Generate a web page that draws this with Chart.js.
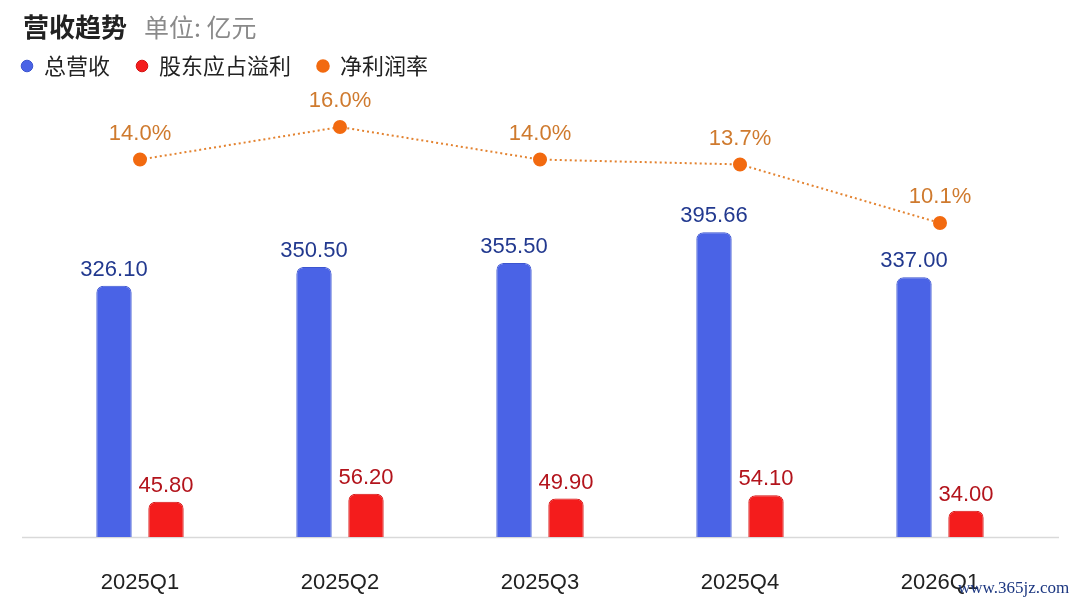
<!DOCTYPE html>
<html>
<head>
<meta charset="utf-8">
<script src="https://cdn.jsdelivr.net/npm/chart.js@4.4.1/dist/chart.umd.min.js"></script>
<style>
  html, body { margin: 0; padding: 0; background: #ffffff; }
  #wrap { position: relative; width: 1080px; height: 603px; overflow: hidden; }
  #title { position: absolute; left: 23px; top: 7px; font-family: "Noto Sans CJK SC", sans-serif; white-space: nowrap; }
  #title .main { font-size: 26px; font-weight: bold; color: #222222; }
  #title .unit { font-size: 25px; color: #8a8a8a; margin-left: 17px; }
  #mark { position: absolute; left: 958px; top: 578px; font-family: "Liberation Serif", serif; font-size: 17px; color: #1b3680; white-space: nowrap; }
</style>
</head>
<body>
<div id="wrap">
  <canvas id="myChart" width="1080" height="603"></canvas>
  <div id="title"><span class="main">营收趋势</span><span class="unit">单位: 亿元</span></div>
  <div id="mark">www.365jz.com</div>
</div>
<script>
// data
const quarters = ["2025Q1", "2025Q2", "2025Q3", "2025Q4", "2026Q1"];
const revenue = [326.10, 350.50, 355.50, 395.66, 337.00];
const profit = [45.80, 56.20, 49.90, 54.10, 34.00];
const margin = [14.0, 16.0, 14.0, 13.7, 10.1];
const legendOrder = ['总营收', '股东应占溢利', '净利润率'];

const fontFamily = '"Liberation Sans", Arial, sans-serif';
const cjkFont = '"Noto Sans CJK SC", sans-serif';

// value labels over bars and points
const valueLabels = {
  id: 'valueLabels',
  afterDatasetsDraw(chart) {
    const ctx = chart.ctx;
    ctx.save();
    ctx.textAlign = 'center';
    ctx.textBaseline = 'middle';
    ctx.font = '22px ' + fontFamily;
    chart.data.datasets.forEach((ds, i) => {
      const meta = chart.getDatasetMeta(i);
      meta.data.forEach((el, j) => {
        const v = ds.data[j];
        if (ds.type === 'line') {
          ctx.fillStyle = '#cf7a2e';
          ctx.fillText(v.toFixed(1) + '%', el.x, el.y - 26);
        } else {
          ctx.fillStyle = ds.labelColor;
          ctx.fillText(v.toFixed(2), el.x, el.y - 16);
        }
      });
    });
    ctx.restore();
  }
};

// base line runs a little wider than the plot area
const baseLine = {
  id: 'baseLine',
  beforeDatasetsDraw(chart) {
    const ctx = chart.ctx;
    const y = chart.chartArea.bottom + 0.5;
    ctx.save();
    ctx.strokeStyle = '#d9d9d9';
    ctx.lineWidth = 1.5;
    ctx.beginPath();
    ctx.moveTo(22, y);
    ctx.lineTo(1059, y);
    ctx.stroke();
    ctx.restore();
  }
};

const ctx = document.getElementById('myChart');
new Chart(ctx.getContext('2d'), {
  data: {
    labels: quarters,
    datasets: [
      {
        type: 'line',
        label: '净利润率',
        data: margin,
        yAxisID: 'y1',
        borderColor: '#e3822f',
        borderWidth: 2,
        borderDash: [2, 3],
        backgroundColor: '#f26a10',
        pointBackgroundColor: '#f26a10',
        pointBorderColor: '#f26a10',
        pointRadius: 6,
        pointHoverRadius: 6,
        tension: 0,
        order: 0
      },
      {
        type: 'bar',
        label: '总营收',
        data: revenue,
        yAxisID: 'y',
        backgroundColor: '#4a63e6',
        borderColor: '#3c55cf',
        borderWidth: 1,
        borderRadius: { topLeft: 7, topRight: 7 },
        borderSkipped: 'bottom',
        labelColor: '#22398f',
        barPercentage: 0.68,
        categoryPercentage: 0.52,
        order: 1
      },
      {
        type: 'bar',
        label: '股东应占溢利',
        data: profit,
        yAxisID: 'y',
        backgroundColor: '#f41c1c',
        borderColor: '#d41212',
        borderWidth: 1,
        borderRadius: { topLeft: 7, topRight: 7 },
        borderSkipped: 'bottom',
        labelColor: '#b3141c',
        barPercentage: 0.68,
        categoryPercentage: 0.52,
        order: 2
      }
    ]
  },
  options: {
    responsive: false,
    animation: false,
    layout: { padding: { top: 29, bottom: 0, left: -5, right: 0 } },
    plugins: {
      legend: {
        position: 'top',
        align: 'start',
        labels: {
          usePointStyle: true,
          pointStyle: 'circle',
          boxWidth: 12,
          boxHeight: 8.2,
          padding: 26,
          color: '#222222',
          font: { size: 22, family: cjkFont },
          sort: (a, b) => legendOrder.indexOf(a.text) - legendOrder.indexOf(b.text)
        }
      },
      tooltip: { enabled: false }
    },
    scales: {
      x: {
        grid: { display: false, drawTicks: false },
        border: { display: false },
        ticks: { color: '#222222', padding: 33, font: { size: 22, family: fontFamily } },
        afterFit(scale) { scale.height = 66; }
      },
      y: {
        position: 'left',
        min: 0,
        max: 584,
        grid: { display: false },
        border: { display: false },
        ticks: { display: false },
        afterFit(scale) { scale.width = 45; }
      },
      y1: {
        position: 'right',
        min: -9.2,
        max: 18.46,
        grid: { display: false },
        border: { display: false },
        ticks: { display: false },
        afterFit(scale) { scale.width = 40; }
      }
    }
  },
  plugins: [baseLine, valueLabels]
});
</script>
</body>
</html>
